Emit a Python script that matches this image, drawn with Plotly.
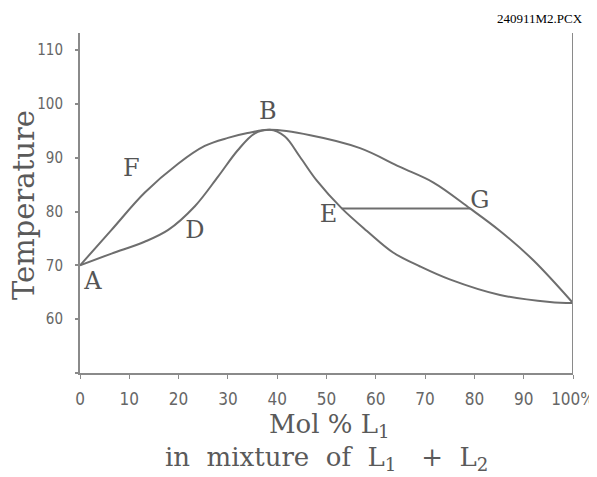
import plotly.graph_objects as go

# Vapour (upper) curve A-F-B-G-C
vapor_x = [0, 6.4, 13.1, 19.9, 25.3, 30, 34, 38.5, 46.7, 56.8, 64.9, 71.7, 79.1, 85.2, 91.9, 100]
vapor_y = [70, 76.6, 83.5, 88.9, 92.2, 93.7, 94.6, 95.2, 94.2, 91.8, 88.3, 85.4, 80.6, 76.4, 71, 63]
# Liquid (lower) curve A-D-B-E-C
liquid_x = [0, 6.4, 13.1, 17.9, 23.3, 28, 32, 35.4, 38.5, 41.5, 44.6, 48, 53.1, 58.2, 63.5, 69, 75, 85.2, 95.3, 100]
liquid_y = [70, 72.2, 74.4, 76.6, 81.0, 86.5, 91.4, 94.5, 95.2, 94.0, 90.2, 85.8, 80.6, 76.4, 72.4, 69.8, 67.4, 64.5, 63.2, 63]
# Tie line E-G
tie_x = [53.1, 79.1]
tie_y = [80.6, 80.6]

# Point labels
label_text = ["A", "B", "C", "D", "E", "F", "G"]
label_x = [2.6, 38.1, 102.8, 23.3, 50.4, 10.4, 81.1]
label_y = [66.7, 98.3, 63.6, 76.3, 79.1, 87.7, 81.8]

x_ticks = [0, 10, 20, 30, 40, 50, 60, 70, 80, 90, 100]
x_tick_labels = ["0", "10", "20", "30", "40", "50", "60", "70", "80", "90", "100%"]
y_ticks = [50, 60, 70, 80, 90, 100, 110]
y_tick_labels = ["", "60", "70", "80", "90", "100", "110"]

line_color = "#6e6e6e"
text_color = "#5a5a5a"
serif = "DejaVu Serif"
narrow = "DejaVu Sans Condensed, Liberation Sans Narrow, DejaVu Sans"

fig = go.Figure()
fig.add_trace(go.Scatter(x=vapor_x, y=vapor_y, mode="lines",
                         line=dict(color=line_color, width=2, shape="spline", smoothing=1.0),
                         hoverinfo="skip", showlegend=False))
fig.add_trace(go.Scatter(x=liquid_x, y=liquid_y, mode="lines",
                         line=dict(color=line_color, width=2, shape="spline", smoothing=1.0),
                         hoverinfo="skip", showlegend=False))
fig.add_trace(go.Scatter(x=tie_x, y=tie_y, mode="lines",
                         line=dict(color=line_color, width=2),
                         hoverinfo="skip", showlegend=False))
fig.add_trace(go.Scatter(x=label_x, y=label_y, mode="text", text=label_text,
                         textfont=dict(family=serif, size=24, color="#555555"),
                         cliponaxis=False, hoverinfo="skip", showlegend=False))

fig.update_layout(
    width=589, height=469,
    margin=dict(l=72, r=24, t=25, b=104),
    plot_bgcolor="white", paper_bgcolor="white",
    xaxis=dict(range=[0, 100], tickvals=x_ticks, ticktext=x_tick_labels,
               showgrid=False, zeroline=False, showline=True, linecolor="#8a8a8a", linewidth=2,
               ticks="outside", ticklen=4, tickcolor="#8a8a8a", tickwidth=1,
               ticklabelstandoff=6,
               tickfont=dict(family=narrow, size=17, color="#666666"),
               automargin=False, fixedrange=True),
    yaxis=dict(range=[50, 113.2], tickvals=y_ticks, ticktext=y_tick_labels,
               showgrid=False, zeroline=False, showline=True, linecolor="#8a8a8a", linewidth=2,
               ticks="outside", ticklen=3, tickcolor="#8a8a8a", tickwidth=2,
               ticklabelstandoff=9,
               tickfont=dict(family=narrow, size=15, color="#666666"),
               automargin=False, fixedrange=True),
    annotations=[
        dict(text="Temperature", x=-0.1136, y=0.494, xref="paper", yref="paper",
             xanchor="center", yanchor="middle", textangle=-90, showarrow=False,
             font=dict(family=serif, size=29, color=text_color)),
        dict(text="Mol % L<sub>1</sub>", x=0.507, y=-0.153, xref="paper", yref="paper",
             xanchor="center", yanchor="middle", showarrow=False,
             font=dict(family=serif, size=26, color=text_color)),
        dict(text="in&nbsp; mixture&nbsp; of&nbsp; L<sub>1</sub>&nbsp;&nbsp; +&nbsp; L<sub>2</sub>",
             x=0.501, y=-0.25, xref="paper", yref="paper",
             xanchor="center", yanchor="middle", showarrow=False,
             font=dict(family=serif, size=26, color=text_color)),
        dict(text="240911M2.PCX", x=0.933, y=1.044, xref="paper", yref="paper",
             xanchor="center", yanchor="middle", showarrow=False,
             font=dict(family="Liberation Serif", size=13, color="black")),
    ],
    shapes=[
        dict(type="line", xref="x", yref="y", x0=100, x1=100, y0=50, y1=113.2,
             line=dict(color="#8a8a8a", width=2)),
    ],
)

fig.write_html("out.html")
